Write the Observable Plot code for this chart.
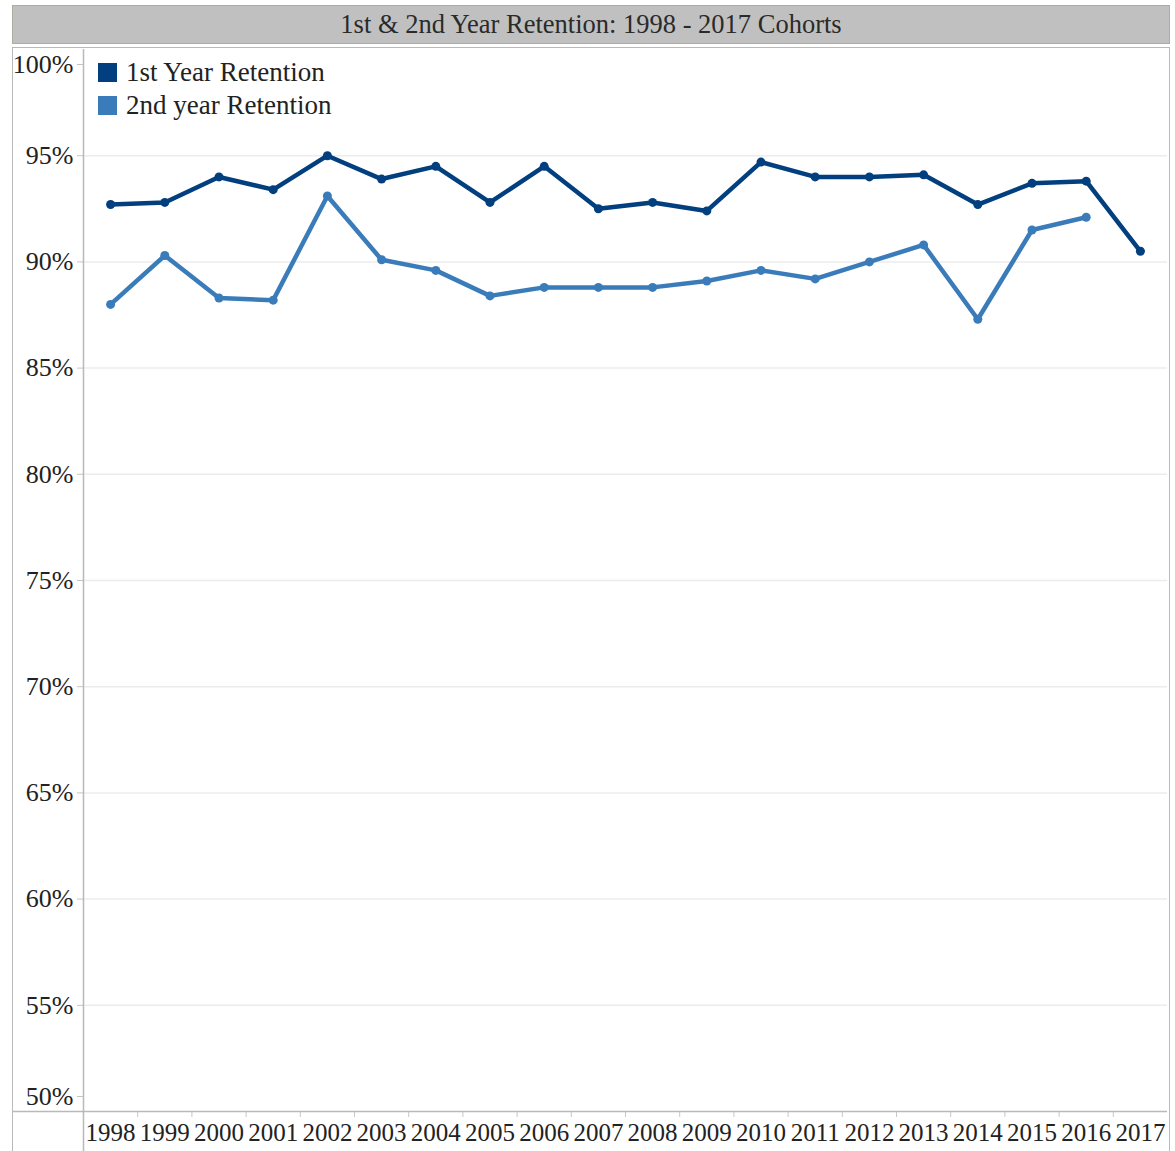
<!DOCTYPE html>
<html>
<head>
<meta charset="utf-8">
<script src="https://cdn.jsdelivr.net/npm/d3@7"></script>
<script src="https://cdn.jsdelivr.net/npm/@observablehq/plot@0.6"></script>
<style>
  html, body { margin: 0; padding: 0; background: #fff; }
  body { width: 1175px; height: 1151px; position: relative; overflow: hidden; font-family: "Liberation Serif", serif; }
  #title { position: absolute; left: 12px; top: 5px; width: 1158px; height: 39px; box-sizing: border-box;
           background: #c0c0c0; border: 1.5px solid #aeab9f; text-align: center; font-size: 26.5px; line-height: 36px; color: #2a2a2a; }
  #frame { position: absolute; left: 12px; top: 47px; width: 1158px; height: 1120px; box-sizing: border-box;
           border: 1.5px solid #b9b9b9; border-bottom: none; }
  #chart { position: absolute; left: 0; top: 0; }
  #legend { position: absolute; left: 98px; top: 59px; font-size: 27px; color: #222; }
  .row { display: flex; align-items: center; height: 27px; margin-bottom: 6px; }
  .sw { width: 19px; height: 19px; margin-right: 9px; }
</style>
</head>
<body>
<div id="title">1st &amp; 2nd Year Retention: 1998 - 2017 Cohorts</div>
<div id="frame"></div>
<div id="chart"></div>
<div id="legend"></div>
<script>
const years = [1998,1999,2000,2001,2002,2003,2004,2005,2006,2007,2008,2009,2010,2011,2012,2013,2014,2015,2016,2017];
const firstYear = [92.7,92.8,94.0,93.4,95.0,93.9,94.5,92.8,94.5,92.5,92.8,92.4,94.7,94.0,94.0,94.1,92.7,93.7,93.8,90.5];
const secondYear = [88.0,90.3,88.3,88.2,93.1,90.1,89.6,88.4,88.8,88.8,88.8,89.1,89.6,89.2,90.0,90.8,87.3,91.5,92.1,null];
const yTicks = [50,55,60,65,70,75,80,85,90,95,100];
const seriesNames = ["1st Year Retention", "2nd year Retention"];
const seriesColors = ["#023f7e", "#3a7cba"];

const d1 = years.map((y, i) => ({year: y, value: firstYear[i]}));
const d2 = years.map((y, i) => ({year: y, value: secondYear[i]})).filter(d => d.value != null);
const boundaries = years.slice(0, -1).map(y => y + 0.5);
const midTicks = yTicks.slice(1, -1);

const axisStyle = {tickFormat: d => d + "%", tickSize: 6, tickPadding: 4, stroke: "#c4c4c4", fontSize: 26, fill: "#222", label: null};

const chart = Plot.plot({
  width: 1175,
  height: 1151,
  marginLeft: 83,
  marginRight: 8,
  marginTop: 49,
  marginBottom: 40,
  style: {fontFamily: "'Liberation Serif', serif", fontSize: "25px", color: "#222", background: "transparent", overflow: "visible"},
  x: {type: "linear", domain: [years[0] - 0.5, years[years.length - 1] + 0.5], axis: null, label: null},
  y: {domain: [yTicks[0], yTicks[yTicks.length - 1]], axis: null, label: null},
  marks: [
    Plot.gridY(midTicks, {stroke: "#ececec", strokeOpacity: 1, strokeWidth: 1.5}),
    Plot.axisY(midTicks, axisStyle),
    Plot.axisY([yTicks[yTicks.length - 1]], {...axisStyle, dy: 15}),
    Plot.axisY([yTicks[0]], {...axisStyle, dy: -15}),
    Plot.axisX(boundaries, {tickFormat: () => "", tickSize: 6, stroke: "#c8c8c8", label: null}),
    Plot.axisX(years, {tickFormat: d => String(d), tickSize: 0, tickPadding: 12, fontSize: 25, fill: "#222", label: null}),
    Plot.ruleY([yTicks[0]], {stroke: "#b9b9b9", strokeWidth: 1.5, insetLeft: -71}),
    Plot.ruleX([years[0] - 0.5], {stroke: "#b9b9b9", strokeWidth: 1.5, insetBottom: -40}),
    Plot.line(d2, {x: "year", y: "value", stroke: seriesColors[1], strokeWidth: 4.5}),
    Plot.dot(d2, {x: "year", y: "value", fill: seriesColors[1], r: 4.5}),
    Plot.line(d1, {x: "year", y: "value", stroke: seriesColors[0], strokeWidth: 4.5}),
    Plot.dot(d1, {x: "year", y: "value", fill: seriesColors[0], r: 4.5})
  ]
});
document.getElementById("chart").appendChild(chart);

const legend = document.getElementById("legend");
seriesNames.forEach((name, i) => {
  const row = document.createElement("div");
  row.className = "row";
  const sw = document.createElement("div");
  sw.className = "sw";
  sw.style.background = seriesColors[i];
  const t = document.createElement("span");
  t.textContent = name;
  row.appendChild(sw);
  row.appendChild(t);
  legend.appendChild(row);
});
</script>
</body>
</html>
